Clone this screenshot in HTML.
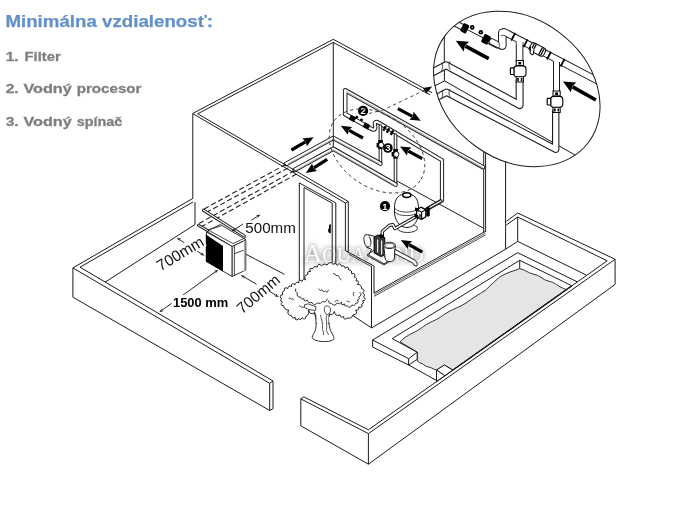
<!DOCTYPE html>
<html><head><meta charset="utf-8"><title>Minimálna vzdialenosť</title>
<style>
html,body{margin:0;padding:0;background:#fff;}
body{width:700px;height:510px;overflow:hidden;font-family:"Liberation Sans",sans-serif;}
svg{display:block;will-change:transform;}
text{font-family:"Liberation Sans",sans-serif;}
</style></head><body>
<svg width="700" height="510" viewBox="0 0 700 510">
<rect width="700" height="510" fill="#fff"/>
<text x="5.4" y="27.3" font-size="16.2" font-weight="bold" fill="#6490ca" stroke="#6490ca" stroke-width="0.25" textLength="207.5" lengthAdjust="spacingAndGlyphs">Minimálna vzdialenosť:</text>
<text x="5.7" y="60.6" font-size="13.1" font-weight="bold" fill="#7f7f7f" stroke="#7f7f7f" stroke-width="0.3" textLength="13" lengthAdjust="spacingAndGlyphs">1.</text>
<text x="24.6" y="60.6" font-size="13.1" font-weight="bold" fill="#7f7f7f" stroke="#7f7f7f" stroke-width="0.3" textLength="36.1" lengthAdjust="spacingAndGlyphs">Filter</text>
<text x="5.7" y="93.2" font-size="13.1" font-weight="bold" fill="#7f7f7f" stroke="#7f7f7f" stroke-width="0.3" textLength="13" lengthAdjust="spacingAndGlyphs">2.</text>
<text x="23.4" y="93.2" font-size="13.1" font-weight="bold" fill="#7f7f7f" stroke="#7f7f7f" stroke-width="0.3" textLength="48.3" lengthAdjust="spacingAndGlyphs">Vodný</text>
<text x="76.7" y="93.2" font-size="13.1" font-weight="bold" fill="#7f7f7f" stroke="#7f7f7f" stroke-width="0.3" textLength="64.8" lengthAdjust="spacingAndGlyphs">procesor</text>
<text x="5.7" y="125.6" font-size="13.1" font-weight="bold" fill="#7f7f7f" stroke="#7f7f7f" stroke-width="0.3" textLength="13" lengthAdjust="spacingAndGlyphs">3.</text>
<text x="23.4" y="125.6" font-size="13.1" font-weight="bold" fill="#7f7f7f" stroke="#7f7f7f" stroke-width="0.3" textLength="48.3" lengthAdjust="spacingAndGlyphs">Vodný</text>
<text x="76.7" y="125.6" font-size="13.1" font-weight="bold" fill="#7f7f7f" stroke="#7f7f7f" stroke-width="0.3" textLength="45.6" lengthAdjust="spacingAndGlyphs">spínač</text>
<path d="M72.9 267.9 L193.0 198.3" stroke="#1c1c1c" stroke-width="1" fill="none" />
<path d="M80.0 267.2 L193.0 202.0" stroke="#1c1c1c" stroke-width="1" fill="none" />
<path d="M105.0 282.2 L195.0 224.5" stroke="#1c1c1c" stroke-width="1" fill="none" />
<path d="M195.0 202.0 L195.0 224.5" stroke="#1c1c1c" stroke-width="1" fill="none" />
<defs><filter id="wb" x="-20%" y="-80%" width="140%" height="260%"><feGaussianBlur stdDeviation="2.4"/></filter></defs>
<text x="303.5" y="261.5" fill="#a8a8a8" stroke="#a8a8a8" stroke-width="1.6" filter="url(#wb)" style="font-family:'Liberation Serif',serif"><tspan font-size="26">A</tspan><tspan font-size="20">QUA</tspan><tspan font-size="26">P</tspan><tspan font-size="20">OND</tspan></text>
<text x="303.5" y="261.5" fill="#fff" style="font-family:'Liberation Serif',serif"><tspan font-size="26">A</tspan><tspan font-size="20">QUA</tspan><tspan font-size="26">P</tspan><tspan font-size="20">OND</tspan></text>
<path d="M615.1 259.3 L517.7 213.0 L506.4 221.3" stroke="#1c1c1c" stroke-width="1" fill="none" />
<path d="M607.2 260.8 L517.7 217.0 L506.4 225.0" stroke="#1c1c1c" stroke-width="1" fill="none" />
<path d="M517.7 217.0 L517.7 241.4" stroke="#1c1c1c" stroke-width="1" fill="none" />
<path d="M517.7 241.4 L586.0 274.9" stroke="#1c1c1c" stroke-width="1" fill="none" />
<path d="M517.7 241.4 L505.9 249.0" stroke="#1c1c1c" stroke-width="1" fill="none" />
<path d="M192.8 198.3 L192.8 113.4 L333.3 39.3 L432.0 92.7" stroke="#1c1c1c" stroke-width="1" fill="none" />
<path d="M197.7 113.8 L333.3 42.4 L430.0 94.8" stroke="#1c1c1c" stroke-width="1" fill="none" />
<path d="M333.3 42.4 L333.3 136.0" stroke="#1c1c1c" stroke-width="1" fill="none" />
<path d="M483.7 151.0 L483.7 232.6" stroke="#1c1c1c" stroke-width="1" fill="none" />
<path d="M485.6 151.0 L485.6 232.0" stroke="#1c1c1c" stroke-width="1" fill="none" />
<path d="M505.6 160.0 L505.6 249.0" stroke="#1c1c1c" stroke-width="1" fill="none" />
<path d="M397.0 181.0 L484.0 228.5" stroke="#1c1c1c" stroke-width="1" fill="none" />
<path d="M505.9 249.0 L371.6 327.9" stroke="#1c1c1c" stroke-width="1" fill="none" />
<path d="M372.6 340.0 L517.7 252.7 L577.7 282.0" stroke="#1c1c1c" stroke-width="1" fill="none" />
<path d="M392.2 338.6 L519.7 260.3 L571.7 285.7" stroke="#1c1c1c" stroke-width="1" fill="none" />
<path d="M400 341.8 C408 334,414 333,420 329 C430 321,436 321,442.9 315.3 C452 309,458 308,466 303 C474 297,478 295,485.5 290.2 C492 284,496 280,500.6 276.4 C508 272,514 271,519.7 268.6 C526 270,528 273,533 274 C540 275,543 280,548 281 C555 282,558 287,566.5 289.6 L453 370 L444.4 365 L436.5 370 C432 369,431 367,428 367 C424 366,423 363,420 363 C418 362,417 360,417.2 359.3 L417.2 352.2 Z" fill="#e5e5e5" stroke="#1c1c1c" stroke-width="0.9" stroke-linejoin="round"/>
<path d="M519.7 260.3 L519.7 268.6" stroke="#1c1c1c" stroke-width="1" fill="none" />
<path d="M392.2 338.6 L417.2 352.2" stroke="#1c1c1c" stroke-width="1" fill="none" />
<path d="M372.6 340.0 L408.6 358.7 L408.6 365.0 L372.6 347.0Z" stroke="#1c1c1c" stroke-width="1" fill="#fff" stroke-linejoin="round" />
<path d="M408.6 358.7 L417.2 352.2 L417.2 359.3 L408.6 365.0Z" stroke="#1c1c1c" stroke-width="1" fill="#fff" stroke-linejoin="round" />
<path d="M408.6 365.0 L436.5 380.4" stroke="#1c1c1c" stroke-width="1" fill="none" />
<path d="M436.5 370.0 L444.4 365.0 L453.0 370.3 L445.0 375.8Z" stroke="#1c1c1c" stroke-width="1" fill="#fff" stroke-linejoin="round" />
<path d="M436.5 370.0 L445.0 375.8 L436.5 381.6Z" stroke="#1c1c1c" stroke-width="1" fill="#fff" stroke-linejoin="round" />
<path d="M368.4 429.8 L607.2 260.8" stroke="#1c1c1c" stroke-width="1" fill="none" />
<path d="M453.0 370.0 L571.7 285.9" stroke="#1c1c1c" stroke-width="1.4" fill="none" />
<path d="M368.4 433.6 L615.1 259.3" stroke="#1c1c1c" stroke-width="1" fill="none" />
<path d="M368.4 464.2 L615.1 284.4" stroke="#1c1c1c" stroke-width="1" fill="none" />
<path d="M615.1 259.3 L615.1 284.4" stroke="#1c1c1c" stroke-width="1" fill="none" />
<path d="M368.4 433.6 L368.4 464.2" stroke="#1c1c1c" stroke-width="1" fill="none" />
<path d="M300.8 398.9 L368.4 433.6" stroke="#1c1c1c" stroke-width="1" fill="none" />
<path d="M303.9 396.9 L368.4 429.8" stroke="#1c1c1c" stroke-width="1" fill="none" />
<path d="M300.8 398.9 L303.9 396.9" stroke="#1c1c1c" stroke-width="1" fill="none" />
<path d="M300.8 398.9 L300.8 425.8 L368.4 464.2" stroke="#1c1c1c" stroke-width="1" fill="none" />
<path d="M72.9 267.9 L269.7 383.3" stroke="#1c1c1c" stroke-width="1" fill="none" />
<path d="M80.0 267.2 L273.0 381.0" stroke="#1c1c1c" stroke-width="1" fill="none" />
<path d="M72.9 267.9 L72.9 297.2 L269.7 410.5 L269.7 383.3 L273.0 381.0 L273.0 408.7 L269.7 410.5" stroke="#1c1c1c" stroke-width="1" fill="none" />
<path d="M483 167.2 L345.2 90.3 L345.2 114.2 L368 127" stroke="#1c1c1c" stroke-width="4.6" fill="none" stroke-linejoin="round" stroke-linecap="round"/>
<path d="M483 167.2 L345.2 90.3 L345.2 114.2 L368 127" stroke="#fff" stroke-width="2.5999999999999996" fill="none" stroke-linejoin="round" stroke-linecap="round"/>
<path d="M483 167.9 L346.5 91.8" stroke="#666" stroke-width="0.6" fill="none"/>
<path d="M368 127 L371.2 128.8 C375 131,376 128,375 125.3 C374 122,376 121.2,378.5 122.6 L442 160.3 L442 200.5 L428 208.5" stroke="#1c1c1c" stroke-width="4.2" fill="none" stroke-linejoin="round" stroke-linecap="round"/>
<path d="M368 127 L371.2 128.8 C375 131,376 128,375 125.3 C374 122,376 121.2,378.5 122.6 L442 160.3 L442 200.5 L428 208.5" stroke="#fff" stroke-width="2.2" fill="none" stroke-linejoin="round" stroke-linecap="round"/>
<path d="M380.4 126 L380.4 163" stroke="#1c1c1c" stroke-width="3.6" fill="none" stroke-linejoin="round" stroke-linecap="round"/>
<path d="M380.4 126 L380.4 163" stroke="#fff" stroke-width="1.6" fill="none" stroke-linejoin="round" stroke-linecap="round"/>
<path d="M395.5 135 L395.5 184.3" stroke="#1c1c1c" stroke-width="3.6" fill="none" stroke-linejoin="round" stroke-linecap="round"/>
<path d="M395.5 135 L395.5 184.3" stroke="#fff" stroke-width="1.6" fill="none" stroke-linejoin="round" stroke-linecap="round"/>
<path d="M380.4 163.6 L333.3 138 L286 164" stroke="#1c1c1c" stroke-width="4.6" fill="none" stroke-linejoin="round" stroke-linecap="round"/>
<path d="M380.4 163.6 L333.3 138 L286 164" stroke="#fff" stroke-width="2.5999999999999996" fill="none" stroke-linejoin="round" stroke-linecap="round"/>
<path d="M379 163.8 L333.3 139 L288 164" stroke="#666" stroke-width="0.6" fill="none"/>
<path d="M395.5 184.6 L333.3 148.8 L294.5 170" stroke="#1c1c1c" stroke-width="4.6" fill="none" stroke-linejoin="round" stroke-linecap="round"/>
<path d="M395.5 184.6 L333.3 148.8 L294.5 170" stroke="#fff" stroke-width="2.5999999999999996" fill="none" stroke-linejoin="round" stroke-linecap="round"/>
<path d="M394 184.8 L333.3 149.8 L296 170.2" stroke="#666" stroke-width="0.6" fill="none"/>
<path d="M333.3 136.0 L333.3 147.0" stroke="#1c1c1c" stroke-width="1" fill="none" />
<rect x="-3" y="-2.6" width="6" height="5.2" fill="#000" transform="translate(352.5 118.5) rotate(29)"/>
<circle cx="356.8" cy="117.2" r="1.4" fill="#000"/><circle cx="361.5" cy="119.8" r="1.4" fill="#000"/>
<rect x="-3" y="-2.6" width="6" height="5.2" fill="#000" transform="translate(366.5 126) rotate(29)"/>
<rect x="-1.2" y="-2.6" width="2.4" height="5.2" fill="#000" transform="translate(384.5 128.5) rotate(29)"/>
<rect x="-1.2" y="-2.6" width="2.4" height="5.2" fill="#000" transform="translate(388 130.5) rotate(29)"/>
<rect x="-1.2" y="-2.6" width="2.4" height="5.2" fill="#000" transform="translate(392 132.6) rotate(29)"/>
<rect x="378.2" y="140" width="4.6" height="3" fill="#000"/><rect x="376.6" y="143" width="3" height="4.5" fill="#000"/><rect x="378.2" y="147.5" width="4.4" height="1.6" fill="#000"/>
<ellipse cx="381.2" cy="145" rx="2.6" ry="2.6" fill="#fff" stroke="#000" stroke-width="0.9"/>
<rect x="393.3" y="149" width="4.6" height="3" fill="#000"/><rect x="391.6" y="152" width="3" height="4.5" fill="#000"/><rect x="393.3" y="157" width="4.4" height="1.6" fill="#000"/>
<ellipse cx="396.3" cy="154.3" rx="2.6" ry="2.8" fill="#fff" stroke="#000" stroke-width="0.9"/>
<circle cx="363.1" cy="110.9" r="5.1" fill="#000"/>
<text x="363.1" y="114.2" font-size="9.5" font-weight="bold" fill="#fff" text-anchor="middle">2</text>
<circle cx="387.9" cy="148" r="4.8" fill="#000"/>
<text x="387.9" y="151.3" font-size="9.5" font-weight="bold" fill="#fff" text-anchor="middle">3</text>
<circle cx="385" cy="206.2" r="5.1" fill="#000"/>
<text x="385" y="209.5" font-size="9.5" font-weight="bold" fill="#fff" text-anchor="middle">1</text>
<ellipse cx="377" cy="151" rx="52.4" ry="36.1" transform="rotate(34.5 377 151)" fill="none" stroke="#333" stroke-width="0.9" stroke-dasharray="3.2 3.2"/>
<path d="M369 113.5 L383 110 L426 89.5" stroke="#333" stroke-width="0.9" fill="none" stroke-dasharray="3.2 3.2"/>
<path d="M432.2 86.5 L422.9 87.9 L426.4 93.6Z" fill="#000"/>
<path d="M363.0 138.0 L349.1 130.4" stroke="#000" stroke-width="3.2" fill="none"/>
<path d="M340.8 125.8 L352.2 126.9 L348.7 130.1 L347.8 134.8Z" fill="#000"/>
<path d="M397.9 108.6 L412.4 116.3" stroke="#000" stroke-width="3.2" fill="none"/>
<path d="M420.8 120.7 L409.4 119.8 L412.8 116.5 L413.6 111.8Z" fill="#000"/>
<path d="M422.2 158.7 L408.3 151.1" stroke="#000" stroke-width="3.2" fill="none"/>
<path d="M400.0 146.5 L411.4 147.6 L407.9 150.8 L407.0 155.5Z" fill="#000"/>
<path d="M291.4 150.0 L305.4 141.9" stroke="#000" stroke-width="3.2" fill="none"/>
<path d="M313.6 137.2 L306.8 146.3 L305.8 141.7 L302.3 138.5Z" fill="#000"/>
<path d="M327.2 159.3 L313.8 167.9" stroke="#000" stroke-width="3.2" fill="none"/>
<path d="M305.8 173.0 L312.2 163.5 L313.4 168.1 L317.1 171.1Z" fill="#000"/>
<path d="M422.3 252.2 L409.1 244.7" stroke="#000" stroke-width="3.2" fill="none"/>
<path d="M400.8 240.0 L412.2 241.3 L408.6 244.4 L407.7 249.1Z" fill="#000"/>
<ellipse cx="407.5" cy="228.3" rx="10" ry="4.2" fill="#fff" stroke="#1c1c1c" stroke-width="0.9"/>
<path d="M394.5 208 C394.5 197.5,399.5 193.8,406.5 193.8 C413.5 193.8,418.5 197.5,418.5 208 L418.5 212 C418.5 220,414.5 227.5,407 227.5 C399.5 227.5,394.5 220,394.5 212 Z" fill="#fff" stroke="#1c1c1c" stroke-width="1"/>
<path d="M394.5 208 C398 213.5,415 213.5,418.5 208" fill="none" stroke="#1c1c1c" stroke-width="0.8"/>
<path d="M394.5 211.5 C398 217,415 217,418.5 211.5" fill="none" stroke="#1c1c1c" stroke-width="0.8"/>
<ellipse cx="406.8" cy="195.1" rx="4.1" ry="2.4" fill="#fff" stroke="#000" stroke-width="1.5"/>
<path d="M382.3 240 L382.3 231.5 L389.5 225.2 L393 224.6 L394.8 228.6 L418 215.5" stroke="#1c1c1c" stroke-width="3.4" fill="none" stroke-linejoin="round" stroke-linecap="round"/>
<path d="M382.3 240 L382.3 231.5 L389.5 225.2 L393 224.6 L394.8 228.6 L418 215.5" stroke="#fff" stroke-width="1.4" fill="none" stroke-linejoin="round" stroke-linecap="round"/>
<path d="M426 209.6 L441 201" stroke="#1c1c1c" stroke-width="3.2" fill="none" stroke-linejoin="round" stroke-linecap="round"/>
<path d="M426 209.6 L441 201" stroke="#fff" stroke-width="1.2000000000000002" fill="none" stroke-linejoin="round" stroke-linecap="round"/>
<path d="M416.6 209.6 L421 207.2 L425.8 209.6 L425.8 216.8 L421.6 219.4 L416.6 216.8Z" fill="#fff" stroke="#000" stroke-width="1.3" stroke-linejoin="round"/>
<path d="M416.6 209.6 L421.6 212.2 L425.8 209.6 M421.6 212.2 L421.6 219.4" fill="none" stroke="#000" stroke-width="1.1"/>
<path d="M415 207.6 L419 208.4 L419 211.4 L415 210.6Z" fill="#000"/>
<path d="M414.6 213.8 L418.4 215.6 L418.4 219 L414.6 217.2Z" fill="#000"/>
<path d="M419 213.5 L421 214.5 L421 218 L419 217Z" fill="#555"/>
<rect x="426.3" y="207" width="3.4" height="9.4" rx="1.2" fill="#000"/>
<path d="M367.5 254.5 L374.0 250.5 L390.5 259.5 L384.0 263.8Z" stroke="#1c1c1c" stroke-width="0.9" fill="#fff" stroke-linejoin="round" />
<path d="M367.5 254.5 L367.5 255.8 L384.0 265.0 L390.5 260.8" stroke="#1c1c1c" stroke-width="0.9" fill="none" />
<path d="M368.6 234.6 L376 236.6 L376 251 L366.8 246.8 Z" fill="#fff" stroke="none"/>
<ellipse cx="367.4" cy="240.8" rx="3.3" ry="6.3" transform="rotate(-12 367.4 240.8)" fill="#fff" stroke="#1c1c1c" stroke-width="1"/>
<path d="M368.4 234.6 L375.2 236.6 M366.4 247 L371.4 249.4 L369 254.6" stroke="#1c1c1c" stroke-width="1" fill="none"/>
<path d="M374 237 L378 235 L384.8 237.6 L384.8 254 L381.5 256.8 L374.2 253 Z" fill="#3a3a3a" stroke="#000" stroke-width="1"/>
<path d="M377.6 239.5 L377.6 252.5 M381.6 240.5 L381.6 254.5" stroke="#eee" stroke-width="1.2" fill="none"/>
<path d="M379.6 233.8 L384 235.2 L384 238.4 L379.6 237Z" fill="#000"/>
<path d="M383.7 245.6 L385.2 259 C386.2 262.6,393.4 262.6,394.4 258.8 L395.3 245.6 Z" fill="#fff" stroke="#1c1c1c" stroke-width="1"/>
<ellipse cx="389.5" cy="245.4" rx="5.8" ry="3.2" fill="#fff" stroke="#1c1c1c" stroke-width="1"/>
<ellipse cx="389.5" cy="245.7" rx="4.4" ry="2.2" fill="#fff" stroke="#1c1c1c" stroke-width="0.7"/>
<path d="M394.9 249.3 L414 259.6 C417.2 261.5,417.6 264.2,416.8 266.2 L413.6 265 C414 263.6,413.2 263.2,411.8 262.5 L394.6 253.6 Z" fill="#fff" stroke="#1c1c1c" stroke-width="1" stroke-linejoin="round"/>
<path d="M192.8 113.6 L345.4 203.0" stroke="#1c1c1c" stroke-width="1" fill="none" />
<path d="M197.7 113.8 L348.3 201.5" stroke="#1c1c1c" stroke-width="1" fill="none" />
<path d="M345.4 203.0 L348.3 201.5" stroke="#1c1c1c" stroke-width="1" fill="none" />
<path d="M345.4 203.0 L345.4 250.8" stroke="#1c1c1c" stroke-width="1" fill="none" />
<path d="M348.3 201.5 L348.3 252.3" stroke="#1c1c1c" stroke-width="1" fill="none" />
<path d="M345.7 250.8 L373.6 265.8" stroke="#1c1c1c" stroke-width="1" fill="none" />
<path d="M348.5 254.0 L371.5 266.6" stroke="#1c1c1c" stroke-width="0.8" fill="none" />
<path d="M371.5 266.2 L371.5 327.9" stroke="#1c1c1c" stroke-width="1" fill="none" />
<path d="M374.0 266.0 L374.0 293.0" stroke="#1c1c1c" stroke-width="1" fill="none" />
<path d="M373.9 293.0 L485.0 231.6" stroke="#1c1c1c" stroke-width="1" fill="none" />
<path d="M374.0 294.6 L485.5 233.2" stroke="#1c1c1c" stroke-width="0.7" fill="none" />
<path d="M374.0 296.4 L485.5 235.0" stroke="#1c1c1c" stroke-width="0.8" fill="none" />
<path d="M246.0 254.3 L284.4 274.3" stroke="#1c1c1c" stroke-width="1" fill="none" />
<path d="M353.0 315.7 L371.6 327.9" stroke="#1c1c1c" stroke-width="1" fill="none" />
<path d="M286.0 164.3 L204.0 209.0" stroke="#222" stroke-width="1.1" fill="none" stroke-dasharray="5.2 2.8"/>
<path d="M288.0 168.0 L206.0 212.6" stroke="#222" stroke-width="1.1" fill="none" stroke-dasharray="5.2 2.8"/>
<path d="M294.5 170.5 L199.0 223.5" stroke="#222" stroke-width="1.1" fill="none" stroke-dasharray="5.2 2.8"/>
<path d="M296.5 174.0 L201.0 227.0" stroke="#222" stroke-width="1.1" fill="none" stroke-dasharray="5.2 2.8"/>
<path d="M299.3 283.0 L299.3 182.9 L335.8 203.0 L335.8 266.0" stroke="#1c1c1c" stroke-width="1" fill="none" />
<path d="M304.0 281.0 L304.0 187.5 L332.2 203.2 L332.2 263.0" stroke="#1c1c1c" stroke-width="1" fill="none" />
<path d="M330.8 224 L330.8 233.4 L328.4 232.2 L328 229.3 L329 228.8 L329 225Z" fill="#000"/>
<path d="M206.5 231.0 L220.5 224.6 L246.0 239.8 L232.2 246.5Z" stroke="#1c1c1c" stroke-width="0.9" fill="#fff" stroke-linejoin="round" />
<path d="M207.5 229.6 L233.0 243.6 L245.8 237.6" stroke="#1c1c1c" stroke-width="0.8" fill="none" />
<path d="M208.0 230.2 L221.5 225.7" stroke="#1c1c1c" stroke-width="0.8" fill="none" />
<path d="M206.5 232.0 L232.2 246.5 L232.2 276.5 L206.5 261.5Z" stroke="#1c1c1c" stroke-width="0.9" fill="#fff" stroke-linejoin="round" />
<path d="M205.8 234.5 L223 246 L223 271.5 L205.8 261.5Z" fill="#000"/>
<path d="M232.2 246.5 L245.8 240.0 L245.8 270.0 L232.2 276.5Z" stroke="#1c1c1c" stroke-width="0.9" fill="#fff" stroke-linejoin="round" />
<defs><linearGradient id="hg" x1="0" x2="1" y1="0" y2="0"><stop offset="0" stop-color="#fff"/><stop offset="1" stop-color="#666"/></linearGradient></defs>
<path d="M243.2 241.3 L245.8 240 L245.8 270 L243.2 271.2Z" fill="url(#hg)"/>
<path d="M234.4 245.6 L234.4 275.5" stroke="#1c1c1c" stroke-width="0.8" fill="none" />
<path d="M234.4 253.6 L243.7 250.2" stroke="#1c1c1c" stroke-width="0.8" fill="none" />
<path d="M203.6 210.3 L244.3 236" stroke="#1c1c1c" stroke-width="3.2" fill="none" stroke-linejoin="round" stroke-linecap="round"/>
<path d="M203.6 210.3 L244.3 236" stroke="#fff" stroke-width="1.2000000000000002" fill="none" stroke-linejoin="round" stroke-linecap="round"/>
<path d="M198.5 225.2 L207.5 230.5" stroke="#1c1c1c" stroke-width="3.0" fill="none" stroke-linejoin="round" stroke-linecap="round"/>
<path d="M198.5 225.2 L207.5 230.5" stroke="#fff" stroke-width="1.0" fill="none" stroke-linejoin="round" stroke-linecap="round"/>
<path d="M314.3 311 C316.5 318,316.5 324,315.8 328.6 C315 333,312 335,312.2 337.5 C313 342,330 343,333.5 339.5 C335.5 337.5,331 333,330 328.6 C329 324,327.5 320,329.4 313 Z" fill="#fff" stroke="#1c1c1c" stroke-width="0.9"/>
<path d="M320.5 317 C321 321,323.5 323,322.5 327 C322 330,324 332,323.5 335 M326.5 318 C325.5 322,327.5 325,326.5 329 C326 331,328 333,328.5 335" fill="none" stroke="#1c1c1c" stroke-width="0.7"/>
<path d="M333.0 264.3 Q335.8 262.1 337.2 265.4 Q340.4 261.8 341.5 266.4 Q344.6 264.7 345.1 268.2 Q348.8 265.3 348.7 270.0 Q352.4 270.0 351.5 273.6 Q356.3 272.8 354.4 277.2 Q357.8 277.9 355.9 280.8 Q360.5 280.9 357.3 284.3 Q361.5 284.4 361.6 288.6 Q366.2 289.8 362.6 292.9 Q365.9 294.4 363.7 297.2 Q367.2 300.2 362.6 300.8 Q364.9 303.3 361.6 304.3 Q363.1 308.7 358.7 307.1 Q359.3 310.6 355.8 310.0 Q358.1 314.6 353.0 315.0 Q351.5 319.0 347.3 318.0 Q343.9 321.1 343.6 316.5 Q340.7 318.4 340.0 315.0 Q335.0 316.8 334.4 311.5 Q333.3 315.4 329.4 314.3 Q329.6 318.9 326.0 316.0 Q324.0 318.9 322.0 316.0 Q320.0 320.2 318.0 316.0 Q314.3 316.6 314.3 312.9 Q309.5 315.2 308.6 310.0 Q309.8 314.4 305.8 316.5 Q305.2 321.1 302.2 317.6 Q301.2 320.9 298.6 318.7 Q295.2 321.9 295.1 317.2 Q292.2 319.2 291.5 315.8 Q286.3 314.8 288.6 310.0 Q284.3 310.1 283.6 305.8 Q279.0 305.2 282.5 302.2 Q279.2 301.2 281.4 298.6 Q278.2 295.2 282.9 294.7 Q280.9 291.8 284.3 290.8 Q283.9 286.1 287.9 288.6 Q288.2 285.1 291.5 286.5 Q291.4 281.9 295.1 284.7 Q295.5 281.3 298.6 282.9 Q298.8 278.3 302.2 281.4 Q302.9 278.1 305.8 280.0 Q302.9 275.7 307.9 274.3 Q307.0 271.0 310.4 271.5 Q308.5 267.3 312.9 268.6 Q314.1 265.2 317.2 267.1 Q318.0 262.4 321.5 265.7 Q324.0 262.5 327.2 265.0 Q329.6 260.5 333.0 264.3Z" fill="#fff" stroke="#1c1c1c" stroke-width="1" stroke-linejoin="round"/>
<path d="M314.5 311.5 C316 316,316.5 320,316.2 324 M329.2 313.5 C328 317,328.3 320,329 324" fill="none" stroke="#1c1c1c" stroke-width="0.9"/>
<path d="M316.5 312 L328.5 313.5 L328.5 323 L316.5 323Z" fill="#fff"/>
<path d="M320.5 315 C321 319,322.5 321,322.3 324 M326.5 315.5 C325.8 319,327 321,326.6 324" fill="none" stroke="#1c1c1c" stroke-width="0.7"/>
<path d="M325 306.5 C323.5 309,324.5 313,327 315 C329.5 314,331.5 311,330 307.5 C328.5 305.5,326.5 305.5,325 306.5Z" fill="#fff" stroke="#1c1c1c" stroke-width="0.8"/>
<path d="M304.5 304.8 L308 303.8 L316 306.8 L315.5 310.5 L308.5 309.5 L304.5 307.5Z" fill="#fff" stroke="#1c1c1c" stroke-width="0.8"/>
<path d="M295.8 288.6 Q294.2 291.7 297.5 293.0 Q296.0 297.3 300.5 297.0 Q301.1 300.1 303.9 298.5 Q304.0 302.7 307.2 300.0 Q308.4 303.5 312.0 302.5 Q314.2 306.5 317.2 303.0 Q320.6 304.7 322.5 301.5 Q326.8 303.3 327.2 298.6" fill="none" stroke="#1c1c1c" stroke-width="0.9"/>
<path d="M328.5 300.5 Q328.2 303.8 331.5 303.5 Q334.7 307.0 337.2 303.0 Q339.9 305.0 341.5 302.0 Q340.9 306.1 344.4 303.9 Q344.4 307.0 347.3 305.8 Q350.3 309.1 352.0 305.0 Q355.1 306.3 355.8 303.0 Q359.9 303.2 357.2 300.1 Q360.3 299.8 358.7 297.2 Q362.9 295.2 359.5 292.0" fill="none" stroke="#1c1c1c" stroke-width="0.9"/>
<path d="M318.6 288.6 l1.6 2 l1.8-.9 l1.4 2 l2-.7 l1.6 1.4 l1.7-2.6 M333 273.6 l2 .2 l.8 1.6 l2.4 .3 l1.4 2.2 l1.6 2.4 M288.6 298.6 l1.4-.8 l1.2 1.4 l1.6-.6 l1.6 1.4 M299 305.5 l2.4 1.6 l2.6 .2 M334.5 302 l2-1.6 l2 .6 M341.5 303.5 l1.2 1.6 M346.5 300.5 l1.6 1.4 l1.6-.4 M354 292 l-.8 2.2 l.8 2" fill="none" stroke="#1c1c1c" stroke-width="0.8"/>
<text x="245.3" y="233.3" font-size="15" fill="#111" textLength="50.5" lengthAdjust="spacingAndGlyphs">500mm</text>
<path d="M243.0 224.0 L234.4 229.6" stroke="#111" stroke-width="0.9" fill="none"/>
<path d="M231.5 231.5 L234.4 227.7 L234.0 229.9 L236.1 230.4Z" fill="#111"/>
<path d="M251.5 220.0 L257.5 216.4" stroke="#111" stroke-width="0.9" fill="none"/>
<path d="M260.5 214.6 L257.5 218.3 L257.9 216.1 L255.8 215.5Z" fill="#111"/>
<path d="M190.0 246.5 L179.6 239.6" stroke="#111" stroke-width="0.9" fill="none"/>
<path d="M176.7 237.7 L181.3 238.8 L179.2 239.4 L179.6 241.5Z" fill="#111"/>
<path d="M190.0 246.5 L201.5 253.9" stroke="#111" stroke-width="0.9" fill="none"/>
<path d="M204.4 255.8 L199.8 254.7 L201.9 254.2 L201.5 252.0Z" fill="#111"/>
<rect x="-1" y="-12.5" width="54" height="14" fill="#fff" transform="translate(160.5 271.5) rotate(-31)"/>
<text transform="translate(160.5 271.5) rotate(-31)" font-size="15.5" fill="#111" textLength="52" lengthAdjust="spacingAndGlyphs">700mm</text>
<path d="M190.0 290.0 L162.0 310.2" stroke="#111" stroke-width="0.9" fill="none"/>
<path d="M159.2 312.3 L161.9 308.4 L161.6 310.5 L163.8 311.0Z" fill="#111"/>
<path d="M190.0 290.0 L215.4 271.8" stroke="#111" stroke-width="0.9" fill="none"/>
<path d="M218.2 269.8 L215.5 273.7 L215.8 271.5 L213.6 271.1Z" fill="#111"/>
<rect x="171.5" y="295" width="58" height="13.5" fill="#fff"/>
<text x="173" y="306.9" font-size="13.6" font-weight="bold" fill="#000" textLength="55.3" lengthAdjust="spacingAndGlyphs">1500 mm</text>
<text transform="translate(242.3 314.6) rotate(-40.5)" font-size="15.5" fill="#111" textLength="51" lengthAdjust="spacingAndGlyphs">700mm</text>
<path d="M256.5 284.3 L243.8 276.8" stroke="#111" stroke-width="0.9" fill="none"/>
<path d="M240.8 275.0 L245.5 275.9 L243.4 276.5 L243.9 278.7Z" fill="#111"/>
<path d="M268.7 290.8 L275.8 295.3" stroke="#111" stroke-width="0.9" fill="none"/>
<path d="M278.7 297.2 L274.0 296.1 L276.2 295.6 L275.8 293.4Z" fill="#111"/>
<defs><clipPath id="ic"><ellipse cx="516.8" cy="88.9" rx="89.4" ry="70.6" transform="rotate(36.4 516.8 88.9)"/></clipPath></defs>
<ellipse cx="516.8" cy="88.9" rx="89.4" ry="70.6" transform="rotate(36.4 516.8 88.9)" fill="#fff" stroke="none"/>
<g clip-path="url(#ic)">
<path d="M444.3 20.0 L444.3 62.0" stroke="#1c1c1c" stroke-width="1" fill="none" />
<path d="M444.4 69.0 L444.4 81.0" stroke="#1c1c1c" stroke-width="1" fill="none" />
<path d="M430.0 88.3 L444.5 80.9 L600.0 169.2" stroke="#1c1c1c" stroke-width="1" fill="none" />
<path d="M420 106.3 L446.5 92.2 L555.7 149.2 L555.7 112" stroke="#1c1c1c" stroke-width="7.4" fill="none" stroke-linejoin="round" stroke-linecap="round"/>
<path d="M420 106.3 L446.5 92.2 L555.7 149.2 L555.7 112" stroke="#fff" stroke-width="5.2" fill="none" stroke-linejoin="round" stroke-linecap="round"/>
<path d="M420 79 L446 65.2 L519.6 105 L519.6 82" stroke="#1c1c1c" stroke-width="8.0" fill="none" stroke-linejoin="round" stroke-linecap="round"/>
<path d="M420 79 L446 65.2 L519.6 105 L519.6 82" stroke="#fff" stroke-width="5.8" fill="none" stroke-linejoin="round" stroke-linecap="round"/>
<path d="M441.8 62.5 C443 65,443 68,441.5 70.8 M450 61.2 C448.5 64,448.5 67,450.3 69.8" stroke="#222" stroke-width="0.8" fill="none"/>
<path d="M441.8 90.2 C443 92.7,443 95.7,441.5 98.5 M450 88.9 C448.5 91.7,448.5 94.7,450.3 97.5" stroke="#222" stroke-width="0.8" fill="none"/>
<path d="M440 15.5 L498.5 45.8" stroke="#1c1c1c" stroke-width="6.6" fill="none" stroke-linejoin="round" stroke-linecap="butt"/>
<path d="M440 15.5 L498.5 45.8" stroke="#fff" stroke-width="4.6" fill="none" stroke-linejoin="round" stroke-linecap="butt"/>
<rect x="-9" y="-4.2" width="18" height="8.4" fill="#fff" transform="translate(475.4 33.9) rotate(27.4)"/>
<path d="M467.0 29.5 L484.0 38.3" stroke="#1c1c1c" stroke-width="1" fill="none" />
<rect x="-3.2" y="-4.6" width="6.4" height="9.2" rx="1.5" fill="#000" transform="translate(464.8 28.3) rotate(27.4)"/>
<rect x="-3.6" y="-4.6" width="7.2" height="9.2" rx="1.5" fill="#000" transform="translate(486 39.3) rotate(27.4)"/>
<circle cx="472.2" cy="27.4" r="2.3" fill="#000"/><circle cx="472.2" cy="27.4" r=".55" fill="#fff"/>
<circle cx="480.8" cy="32.2" r="2.3" fill="#000"/><circle cx="480.8" cy="32.2" r=".55" fill="#fff"/>
<path d="M492 41.6 L500 45.8" stroke="#1c1c1c" stroke-width="6.6" fill="none" stroke-linejoin="round" stroke-linecap="round"/>
<path d="M502.3 45.6 L502.3 32.8" stroke="#1c1c1c" stroke-width="8.6" fill="none" stroke-linejoin="round" stroke-linecap="round"/>
<path d="M504.5 32 L600 82" stroke="#1c1c1c" stroke-width="7.6" fill="none" stroke-linejoin="round" stroke-linecap="round"/>
<path d="M492 41.6 L500 45.8" stroke="#fff" stroke-width="4.6" fill="none" stroke-linejoin="round" stroke-linecap="round"/>
<path d="M502.3 45.6 L502.3 32.8" stroke="#fff" stroke-width="6.6" fill="none" stroke-linejoin="round" stroke-linecap="round"/>
<path d="M504.5 32 L600 82" stroke="#fff" stroke-width="5.6" fill="none" stroke-linejoin="round" stroke-linecap="round"/>
<path d="M498.6 41.5 C499.5 43.5,499.5 46,498.8 48.4 M506.3 36.5 C505 35.5,503 35,500.8 35.6" stroke="#222" stroke-width="0.8" fill="none"/>
<path d="M519.6 42 L519.6 62" stroke="#1c1c1c" stroke-width="7.6" fill="none" stroke-linejoin="round" stroke-linecap="butt"/>
<path d="M519.6 42 L519.6 62" stroke="#fff" stroke-width="5.6" fill="none" stroke-linejoin="round" stroke-linecap="butt"/>
<path d="M556.5 62 L556.5 92" stroke="#1c1c1c" stroke-width="7.0" fill="none" stroke-linejoin="round" stroke-linecap="butt"/>
<path d="M556.5 62 L556.5 92" stroke="#fff" stroke-width="5.0" fill="none" stroke-linejoin="round" stroke-linecap="butt"/>
<rect x="516.8" y="38.5" width="5.6" height="6" fill="#fff"/>
<rect x="554" y="58.5" width="5" height="6" fill="#fff"/>
<rect x="-0.9" y="-4.3" width="1.8" height="8.6" fill="#000" transform="translate(513.2 36.8) rotate(27.4)"/>
<rect x="-0.9" y="-4.3" width="1.8" height="8.6" fill="#000" transform="translate(525.6 43.2) rotate(27.4)"/>
<rect x="-0.9" y="-4.3" width="1.8" height="8.6" fill="#000" transform="translate(549 55.6) rotate(27.4)"/>
<rect x="-0.9" y="-4.3" width="1.8" height="8.6" fill="#000" transform="translate(562.6 62.7) rotate(27.4)"/>
<rect x="-8" y="-4.4" width="16" height="8.8" rx="2.5" fill="#fff" stroke="#000" stroke-width="1" transform="translate(537.5 49.5) rotate(27.4)"/>
<rect x="-6.1" y="-4.2" width="1.2" height="8.4" fill="#000" transform="translate(537.5 49.5) rotate(27.4)"/>
<rect x="-4.1" y="-4.2" width="1.2" height="8.4" fill="#000" transform="translate(537.5 49.5) rotate(27.4)"/>
<rect x="2.9" y="-4.2" width="1.2" height="8.4" fill="#000" transform="translate(537.5 49.5) rotate(27.4)"/>
<rect x="4.9" y="-4.2" width="1.2" height="8.4" fill="#000" transform="translate(537.5 49.5) rotate(27.4)"/>
<path d="M530.6 46.5 L530 53.5 L533 55 L534 50" fill="#fff" stroke="#000" stroke-width="1"/>
<rect x="516.1999999999999" y="60.5" width="7.2" height="5" fill="#fff" stroke="#000" stroke-width="1"/>
<rect x="518.4" y="61.9" width="2.8" height="2.6" fill="#000"/>
<rect x="516.1999999999999" y="76.5" width="7.2" height="5.5" fill="#fff" stroke="#000" stroke-width="1"/>
<rect x="517.1999999999999" y="78.0" width="1.6" height="3" fill="#000"/><rect x="520.8" y="78.0" width="1.6" height="3" fill="#000"/>
<rect x="513.8" y="65.9" width="12.2" height="10.8" rx="3.2" fill="#fff" stroke="#000" stroke-width="1.1"/>
<rect x="510.4" y="67.9" width="3.6" height="6.6" rx="0.8" fill="#fff" stroke="#000" stroke-width="1.2"/>
<rect x="553.0" y="91" width="7.2" height="5" fill="#fff" stroke="#000" stroke-width="1"/>
<rect x="555.2" y="92.4" width="2.8" height="2.6" fill="#000"/>
<rect x="553.0" y="107" width="7.2" height="5.5" fill="#fff" stroke="#000" stroke-width="1"/>
<rect x="554.0" y="108.5" width="1.6" height="3" fill="#000"/><rect x="557.6" y="108.5" width="1.6" height="3" fill="#000"/>
<rect x="550.6" y="96.4" width="12.2" height="10.8" rx="3.2" fill="#fff" stroke="#000" stroke-width="1.1"/>
<rect x="547.2" y="98.4" width="3.6" height="6.6" rx="0.8" fill="#fff" stroke="#000" stroke-width="1.2"/>
<path d="M488.7 58.7 L465.5 46.1" stroke="#000" stroke-width="3.6" fill="none"/>
<path d="M455.8 40.8 L469.0 41.7 L465.0 45.8 L463.7 51.4Z" fill="#000"/>
<path d="M595.9 100.0 L572.6 86.9" stroke="#000" stroke-width="3.6" fill="none"/>
<path d="M563.0 81.5 L576.2 82.6 L572.2 86.6 L570.8 92.2Z" fill="#000"/>
</g>
<ellipse cx="516.8" cy="88.9" rx="89.4" ry="70.6" transform="rotate(36.4 516.8 88.9)" fill="none" stroke="#1c1c1c" stroke-width="1"/>
</svg>
</body></html>
